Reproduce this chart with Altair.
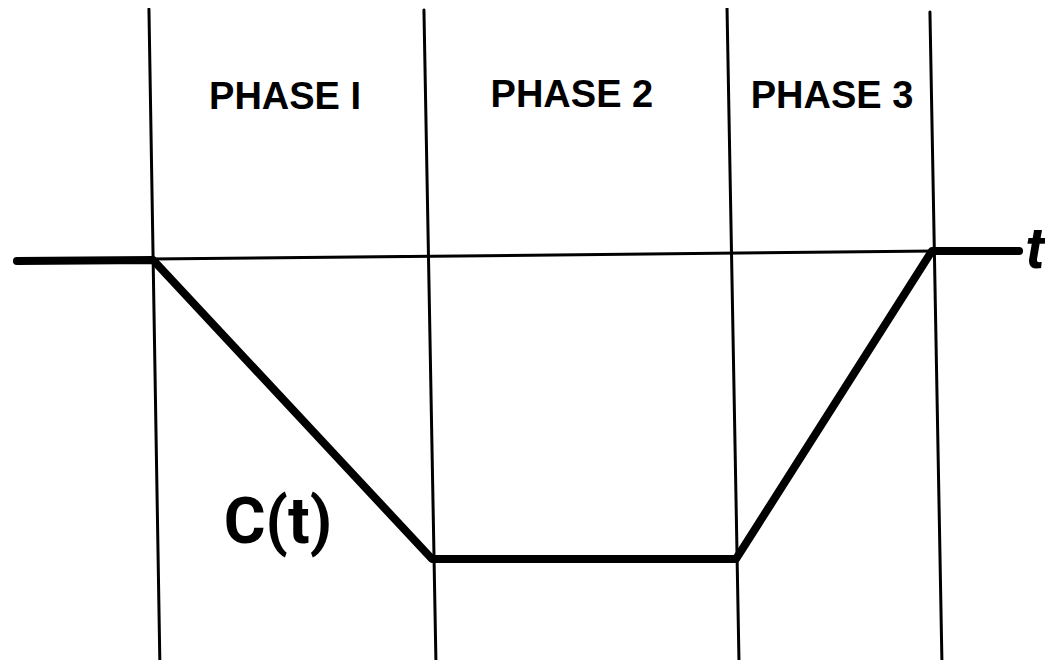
import altair as alt
import pandas as pd

# ---- data (schematic; t in arbitrary time units, C in arbitrary units)
# phase boundary lines (hand drawn, slightly tilted): top and bottom ends
bound_t_top = [-0.22, 9.78, 20.80, 28.18]
bound_t_bot = [0.18, 10.22, 21.24, 28.62]
bound_c_top = [8.42, 8.39, 8.52, 8.32]
bound_c_bot = [-13.66, -13.66, -13.66, -13.66]

# thin time axis line
axis_t = [-0.18, 28.36]
axis_c = [0.03, 0.30]

# thick C(t) curve
curve_t = [-5.02, -0.07, 10.07, 21.13, 28.25, 31.42]
curve_c = [-0.03, 0.00, -10.03, -10.03, 0.30, 0.30]

# phase labels
phase_names = ["PHASE I", "PHASE 2", "PHASE 3"]
phase_t = [4.73, 15.16, 24.62]
phase_c = [5.07, 5.13, 5.10]

# curve/axis labels
lab_text = ["C(t)", "t"]
lab_t = [4.47, 31.66]
lab_c = [-9.5, -0.27]
lab_align = ["center", "left"]

W, H = 1037, 652
xs = alt.Scale(domain=[-5.345, 32.364], nice=False, zero=False)
ys = alt.Scale(domain=[-13.423, 8.456], nice=False, zero=False)

bounds = pd.DataFrame({"t": bound_t_top, "t2": bound_t_bot,
                       "c": bound_c_top, "c2": bound_c_bot})
axis_df = pd.DataFrame({"t": [axis_t[0]], "t2": [axis_t[1]],
                        "c": [axis_c[0]], "c2": [axis_c[1]]})
curve = pd.DataFrame({"t": curve_t, "c": curve_c, "o": list(range(len(curve_t)))})
phases = pd.DataFrame({"name": phase_names, "t": phase_t, "c": phase_c})
labs = pd.DataFrame({"text": lab_text, "t": lab_t, "c": lab_c, "align": lab_align})

bound_layer = alt.Chart(bounds).mark_rule(color="black", strokeWidth=3, clip=True, strokeCap="round").encode(
    x=alt.X("t:Q", scale=xs, axis=None), x2="t2:Q",
    y=alt.Y("c:Q", scale=ys, axis=None), y2="c2:Q")

axis_layer = alt.Chart(axis_df).mark_rule(color="black", strokeWidth=3, strokeCap="round").encode(
    x=alt.X("t:Q", scale=xs, axis=None), x2="t2:Q",
    y=alt.Y("c:Q", scale=ys, axis=None), y2="c2:Q")

curve_layer = alt.Chart(curve).mark_line(color="black", strokeWidth=8, strokeCap="round",
                                          strokeJoin="round").encode(
    x=alt.X("t:Q", scale=xs, axis=None),
    y=alt.Y("c:Q", scale=ys, axis=None),
    order="o:Q")

phase_layer = alt.Chart(phases).mark_text(font="Liberation Sans", fontWeight="bold", fontSize=38,
                                           baseline="alphabetic", align="center", color="black").encode(
    x=alt.X("t:Q", scale=xs, axis=None),
    y=alt.Y("c:Q", scale=ys, axis=None),
    text="name:N")

lab_c_layer = alt.Chart(labs[labs["align"] == "center"]).mark_text(
    font="Roboto", fontWeight="bold", fontSize=64, baseline="alphabetic", align="center",
    color="black").encode(
    x=alt.X("t:Q", scale=xs, axis=None),
    y=alt.Y("c:Q", scale=ys, axis=None),
    text="text:N")

lab_t_layer = alt.Chart(labs[labs["align"] == "left"]).mark_text(
    font="Roboto", fontWeight="bold", fontStyle="italic", fontSize=58, baseline="alphabetic",
    align="left", color="black").encode(
    x=alt.X("t:Q", scale=xs, axis=None),
    y=alt.Y("c:Q", scale=ys, axis=None),
    text="text:N")

chart = alt.layer(bound_layer, axis_layer, curve_layer, phase_layer, lab_c_layer, lab_t_layer).properties(
    width=W, height=H, padding=0, background="white",
    autosize=alt.AutoSizeParams(type="none", contains="padding"),
).configure_view(stroke=None)

chart.save("out.html", embed_options={"renderer": "svg", "actions": False})
